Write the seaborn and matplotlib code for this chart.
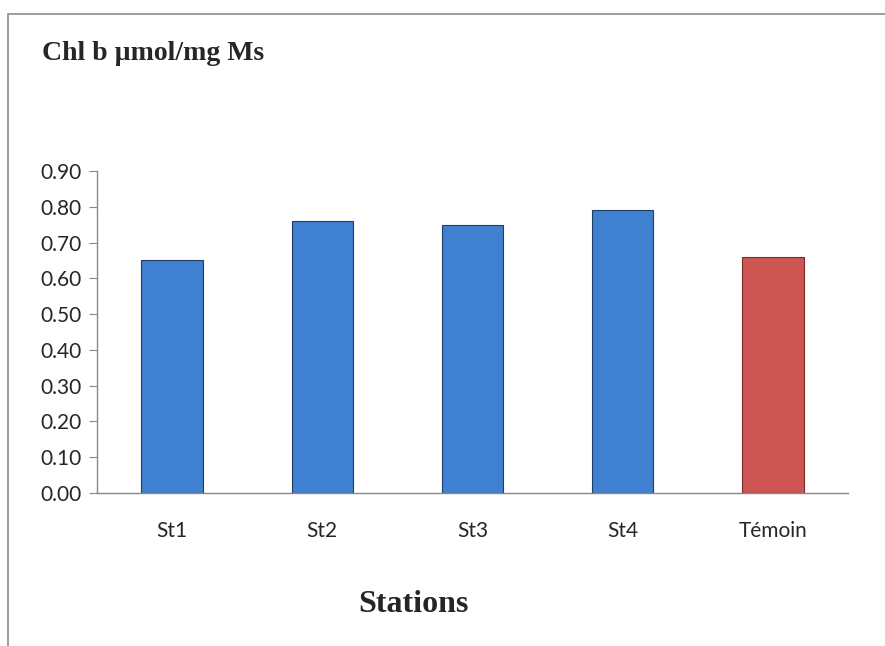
import matplotlib
matplotlib.use("Agg")
import matplotlib.pyplot as plt
from matplotlib.patches import Rectangle
from matplotlib.ticker import FixedLocator
import seaborn as sns
import pandas as pd

stations = ["St1", "St2", "St3", "St4", "Témoin"]
chl_b = [0.65, 0.76, 0.75, 0.79, 0.66]
colors = ["#4080d0", "#4080d0", "#4080d0", "#4080d0", "#cd5552"]
yticks = [0.0, 0.1, 0.2, 0.3, 0.4, 0.5, 0.6, 0.7, 0.8, 0.9]

sns.set_style("white")
plt.rcParams["font.family"] = ["Lato", "DejaVu Sans"]

df = pd.DataFrame({"station": stations, "chl": chl_b})

fig = plt.figure(figsize=(8.85, 6.46), dpi=100)
ax = fig.add_axes([0.1096, 0.2368, 0.8486, 0.4985])

sns.barplot(data=df, x="station", y="chl", hue="station", palette=colors,
            width=0.41, legend=False, ax=ax, saturation=1,
            edgecolor="#1f3f66", linewidth=0.8)
# darker edge for the red bar
ax.patches[-1].set_edgecolor("#7a2a28")

ax.set_ylim(0, 0.9)
ax.set_xlim(-0.5, len(stations) - 0.5)
ax.set_yticks(yticks)
ax.set_yticklabels(["%.2f" % v for v in yticks], fontsize=15)
ax.tick_params(axis="x", which="major", length=0, labelsize=15, pad=20)
ax.xaxis.set_minor_locator(FixedLocator([i - 0.5 for i in range(len(stations) + 1)]))
ax.tick_params(axis="x", which="minor", length=6, color="#888888", direction="out")
ax.tick_params(axis="y", length=6, color="#888888", direction="out", left=True)
ax.tick_params(axis="y", pad=5)

for s in ["top", "right"]:
    ax.spines[s].set_visible(False)
for s in ["left", "bottom"]:
    ax.spines[s].set_color("#888888")
    ax.spines[s].set_linewidth(1)

ax.set_xlabel("")
ax.set_ylabel("")

fig.text(42 / 885, 1 - 54 / 646, "Chl b µmol/mg Ms", fontsize=20, fontweight="bold",
         family="Liberation Serif", va="center", ha="left")
fig.text(413 / 885, 1 - 605 / 646, "Stations", fontsize=23, fontweight="bold",
         family="Liberation Serif", va="center", ha="center")

fig.patches.append(Rectangle((8 / 885, -0.1), 1.2, 1 - 14 / 646 + 0.1,
                             transform=fig.transFigure, fill=False,
                             edgecolor="#8c8c8c", linewidth=1.2))

fig.savefig("out.png", dpi=100)
